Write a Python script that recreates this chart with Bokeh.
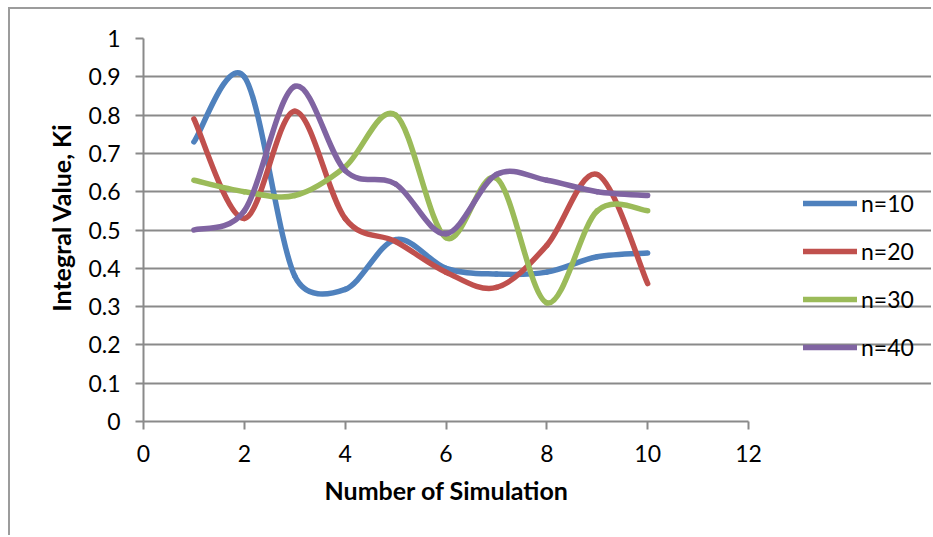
import numpy as np
from bokeh.plotting import figure
from bokeh.models import (FixedTicker, NumeralTickFormatter, Legend, LegendItem,
                          Range1d, ColumnDataSource, Title)
from bokeh.embed import file_html
from bokeh.resources import INLINE

# ---- data ----
simulation = [1, 2, 3, 4, 5, 6, 7, 8, 9, 10]
n10 = [0.73, 0.90, 0.38, 0.345, 0.475, 0.40, 0.385, 0.39, 0.43, 0.44]
n20 = [0.79, 0.53, 0.81, 0.53, 0.47, 0.39, 0.35, 0.46, 0.645, 0.36]
n30 = [0.63, 0.60, 0.59, 0.665, 0.80, 0.48, 0.635, 0.31, 0.55, 0.55]
n40 = [0.50, 0.55, 0.875, 0.655, 0.62, 0.49, 0.645, 0.63, 0.60, 0.59]
series_names = ["n=10", "n=20", "n=30", "n=40"]
series_colors = ["#4F81BD", "#C0504D", "#9BBB59", "#8064A2"]
x_ticks = [0, 2, 4, 6, 8, 10, 12]
y_ticks = [0, 0.1, 0.2, 0.3, 0.4, 0.5, 0.6, 0.7, 0.8, 0.9, 1.0]
x_title = "Number of Simulation"
y_title = "Integral Value, Ki"

FONT = "Lato"
GRID = "#8a8a8a"

# layout (pixels, inside the CSS-bordered chart area)
CONTENT_W, CONTENT_H = 923, 528
LEFT, TOP, BOTTOM = 133, 29, 116
AXIS_W = 605                    # width of the 0..12 axis
FRAME_W = CONTENT_W - LEFT      # frame runs to the right edge (room for legend)
FRAME_H = CONTENT_H - TOP - BOTTOM
X_MIN, X_MAX, Y_MIN, Y_MAX = 0, 12, 0, 1
SX = AXIS_W / (X_MAX - X_MIN)
SY = FRAME_H / (Y_MAX - Y_MIN)
X_END = X_MIN + FRAME_W / SX


def smooth_segments(xs, ys):
    """Bezier segments through the data points (spreadsheet-style smoothed
    line): Catmull-Rom tangents, capped at half the segment length, in
    screen space."""
    x = np.asarray(xs, float) * SX
    y = np.asarray(ys, float) * SY
    n = len(x)
    P = np.stack([x, y], axis=1)
    Pp = np.vstack([P[:1], P, P[-1:]])
    out = {k: [] for k in ("x0", "y0", "x1", "y1", "cx0", "cy0", "cx1", "cy1")}
    for i in range(n - 1):
        a, b = P[i], P[i + 1]
        seg = np.linalg.norm(b - a)
        t1 = (Pp[i + 2] - Pp[i]) / 6.0
        t2 = (Pp[i + 3] - Pp[i + 1]) / 6.0
        l1, l2 = np.linalg.norm(t1), np.linalg.norm(t2)
        if l1 > seg / 2:
            t1 = t1 * (seg / 2) / l1
        if l2 > seg / 2:
            t2 = t2 * (seg / 2) / l2
        c1 = a + t1
        c2 = b - t2
        out["x0"].append(a[0] / SX); out["y0"].append(a[1] / SY)
        out["x1"].append(b[0] / SX); out["y1"].append(b[1] / SY)
        out["cx0"].append(c1[0] / SX); out["cy0"].append(c1[1] / SY)
        out["cx1"].append(c2[0] / SX); out["cy1"].append(c2[1] / SY)
    return out


p = figure(width=CONTENT_W, height=CONTENT_H, output_backend="svg",
           toolbar_location=None,
           x_range=Range1d(X_MIN, X_END), y_range=Range1d(Y_MIN, Y_MAX),
           min_border_left=LEFT, min_border_right=0,
           min_border_top=TOP, min_border_bottom=BOTTOM,
           margin=(7, 0, 0, 8),
           styles={"border-left": "2px solid #9c9c9c",
                   "border-top": "2px solid #9c9c9c"})
p.outline_line_color = None
p.background_fill_color = "white"
p.border_fill_color = "white"

# axes
for ax in (p.xaxis[0], p.yaxis[0]):
    ax.axis_line_color = GRID
    ax.axis_line_width = 2
    ax.major_tick_line_color = GRID
    ax.major_tick_line_width = 2
    ax.major_tick_in = 0
    ax.major_tick_out = 8
    ax.minor_tick_line_color = None
    ax.major_label_text_font = FONT
    ax.major_label_text_font_size = "23px"
    ax.major_label_text_color = "black"

p.xaxis.ticker = FixedTicker(ticks=x_ticks)
p.xaxis.bounds = (X_MIN, X_MAX)
p.yaxis.ticker = FixedTicker(ticks=y_ticks)
p.yaxis.formatter = NumeralTickFormatter(format="0.[0]")
p.xaxis.major_label_standoff = 15
p.yaxis.major_label_standoff = 15

# axis titles (placed relative to the 0..12 plot area, as in the reference)
p.add_layout(Title(text=x_title, align="left", offset=181, standoff=17,
                   text_font=FONT, text_font_size="25px",
                   text_font_style="bold", text_color="black"), "below")
p.add_layout(Title(text=y_title, align="right", offset=85, standoff=19,
                   text_font=FONT, text_font_size="25px",
                   text_font_style="bold", text_color="black"), "left")

p.xgrid.visible = False
p.ygrid.ticker = FixedTicker(ticks=y_ticks)
p.ygrid.bounds = (X_MIN, X_MAX)
p.ygrid.grid_line_color = GRID
p.ygrid.grid_line_width = 2

items = []
for name, vals, col in zip(series_names, [n10, n20, n30, n40], series_colors):
    src = ColumnDataSource(smooth_segments(simulation, vals))
    r = p.bezier(x0="x0", y0="y0", x1="x1", y1="y1", cx0="cx0", cy0="cy0",
                 cx1="cx1", cy1="cy1", source=src, line_color=col,
                 line_width=5.5, line_cap="round", line_join="round")
    items.append(LegendItem(label=name, renderers=[r]))

legend = Legend(items=items, location=(660, 60), orientation="vertical",
                border_line_color=None, background_fill_alpha=0,
                padding=0, margin=0, spacing=20,
                glyph_width=54, glyph_height=20, label_height=20,
                label_standoff=4, label_text_font=FONT,
                label_text_font_size="23px", label_text_color="black")
p.add_layout(legend, "center")

open("out.html", "w").write(file_html(p, INLINE))
